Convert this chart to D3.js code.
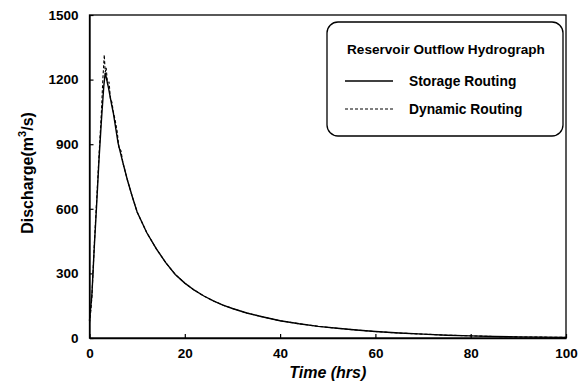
<!DOCTYPE html>
<html>
<head>
<meta charset="utf-8">
<script src="https://cdn.jsdelivr.net/npm/d3@7"></script>
<style>
  html, body { margin: 0; padding: 0; background: #fff; }
  svg { display: block; font-family: "Liberation Sans", Arial, sans-serif; }
</style>
</head>
<body>
<svg id="chart" width="578" height="390"></svg>
<script>
// Reservoir outflow hydrograph: storage routing vs dynamic routing
const storageTime = [0, 0.5, 1, 1.5, 2, 2.5, 3, 3.3, 4, 4.7, 5, 6, 7, 8, 9, 10, 12, 14, 16, 18, 20, 22, 24, 26, 28, 30, 33, 36, 40, 44, 48, 52, 56, 60, 65, 70, 75, 80, 85, 90, 95, 100];
const storageQ    = [80, 200, 420, 620, 830, 1010, 1170, 1232, 1160, 1077, 1045, 905, 815, 730, 655, 585, 490, 415, 350, 295, 255, 222, 195, 172, 153, 137, 116, 100, 80, 66, 54, 45, 37, 30, 23, 18, 13, 10, 7, 5, 4, 3];

const dynamicTime = [0, 0.3, 0.5, 1, 1.5, 2, 2.5, 2.8, 3.1, 3.3, 3.5, 3.8, 4.1, 4.4, 4.7, 5, 5.4, 5.8, 6.2, 6.6, 7, 8, 9, 10, 12, 14, 16, 18, 20, 22, 24, 26, 28, 30, 33, 36, 40, 44, 48, 52, 56, 60, 65, 70, 75, 80, 85, 90, 95, 100];
const dynamicQ    = [70, 130, 190, 430, 640, 850, 1050, 1200, 1315, 1235, 1255, 1175, 1190, 1110, 1095, 1050, 1010, 960, 880, 870, 815, 730, 655, 585, 490, 415, 350, 295, 255, 222, 195, 172, 153, 137, 116, 100, 80, 66, 54, 45, 37, 30, 23, 18, 13, 10, 7, 5, 4, 3];

const xTicks = [0, 20, 40, 60, 80, 100];
const yTicks = [0, 300, 600, 900, 1200, 1500];

const legendTitle = "Reservoir Outflow Hydrograph";
const seriesNames = ["Storage Routing", "Dynamic Routing"];

const svg = d3.select("#chart");
const m = { left: 89.5, right: 566, top: 15, bottom: 338 };

const x = d3.scaleLinear().domain([0, 100]).range([m.left, m.right]);
const y = d3.scaleLinear().domain([0, 1500]).range([m.bottom, m.top]);

// frame
svg.append("rect")
  .attr("x", m.left).attr("y", m.top)
  .attr("width", m.right - m.left).attr("height", m.bottom - m.top)
  .attr("fill", "none").attr("stroke", "#000").attr("stroke-width", 1.3);

// axes with inward ticks
const xAxis = d3.axisBottom(x).tickValues(xTicks).tickFormat(d3.format("d"))
  .tickSizeInner(-4).tickSizeOuter(0).tickPadding(10);
const yAxis = d3.axisLeft(y).tickValues(yTicks).tickFormat(d3.format("d"))
  .tickSizeInner(-4).tickSizeOuter(0).tickPadding(11);

const gx = svg.append("g").attr("transform", `translate(0,${m.bottom})`).call(xAxis);
const gy = svg.append("g").attr("transform", `translate(${m.left},0)`).call(yAxis);
[gx, gy].forEach(g => {
  g.select(".domain").attr("stroke", "#000").attr("stroke-width", 1.3);
  g.selectAll(".tick line").attr("stroke", "#000").attr("stroke-width", 1.2);
  g.selectAll(".tick text")
    .attr("fill", "#000")
    .style("font-family", "'Liberation Sans', Arial, sans-serif")
    .style("font-size", "13.5px")
    .style("font-weight", "bold");
});

// curves
const line = d3.line().x(d => x(d[0])).y(d => y(d[1]));
svg.append("path")
  .datum(storageTime.map((t, i) => [t, storageQ[i]]))
  .attr("d", line)
  .attr("fill", "none").attr("stroke", "#000").attr("stroke-width", 1.4);
svg.append("path")
  .datum(dynamicTime.map((t, i) => [t, dynamicQ[i]]))
  .attr("d", line)
  .attr("fill", "none").attr("stroke", "#000").attr("stroke-width", 1.1)
  .attr("stroke-dasharray", "3,2");

// axis titles
svg.append("text")
  .attr("x", (m.left + m.right) / 2).attr("y", 378)
  .attr("text-anchor", "middle")
  .style("font-size", "16px").style("font-weight", "bold").style("font-style", "italic")
  .text("Time (hrs)");

const yl = svg.append("text")
  .attr("transform", "translate(33,173) rotate(-90)")
  .attr("text-anchor", "middle")
  .style("font-size", "16px").style("font-weight", "bold");
yl.append("tspan").text("Discharge(m");
yl.append("tspan").attr("dy", -7).style("font-size", "11px").text("3");
yl.append("tspan").attr("dy", 7).text("/s)");

// legend
const lg = svg.append("g");
lg.append("rect")
  .attr("x", 327).attr("y", 22).attr("width", 236).attr("height", 114)
  .attr("rx", 11).attr("ry", 11)
  .attr("fill", "#fff").attr("stroke", "#000").attr("stroke-width", 1.3);
lg.append("text")
  .attr("x", 347).attr("y", 54)
  .style("font-size", "13.6px").style("font-weight", "bold")
  .text(legendTitle);
const dashes = [null, "3,2"];
seriesNames.forEach((name, i) => {
  const yy = 81 + i * 28;
  lg.append("line")
    .attr("x1", 345).attr("x2", 393).attr("y1", yy).attr("y2", yy)
    .attr("stroke", "#000").attr("stroke-width", i ? 1.1 : 1.4)
    .attr("stroke-dasharray", dashes[i]);
  lg.append("text")
    .attr("x", 409).attr("y", yy + 5)
    .style("font-size", "13.8px").style("font-weight", "bold")
    .text(name);
});
</script>
</body>
</html>
